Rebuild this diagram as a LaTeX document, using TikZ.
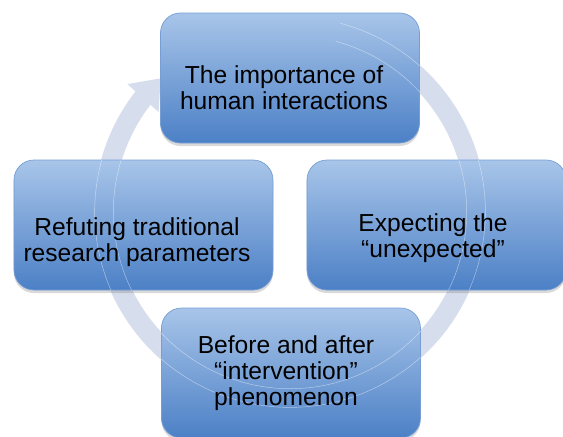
\documentclass[tikz,border=0pt]{standalone}
\usepackage{fontspec}
\setmainfont{Liberation Sans}
\usetikzlibrary{arrows.meta,bending,shadows}

\definecolor{boxtop}{RGB}{168,197,233}
\definecolor{boxbot}{RGB}{76,128,198}
\definecolor{boxrim}{RGB}{118,158,212}
\definecolor{cyclegray}{RGB}{214,221,236}

\begin{document}
\begin{tikzpicture}[
    x=0.03cm, y=-0.03cm,
    stepbox/.style={rounded corners=0.6cm, minimum width=7.77cm, minimum height=3.9cm, top color=boxtop, bottom color=boxbot, draw=boxrim, line width=0.6pt, drop shadow={shadow xshift=0pt, shadow yshift=-0.09cm, opacity=0.3}},
    steptext/.style={align=center, font=\fontsize{21}{22.5}\selectfont, text=black},
    cyclearrow/.style={draw=cyclegray, line width=0.6cm, -{Triangle[width=1.2cm,length=0.8cm]}},
    rim/.style={draw=white, opacity=0.5, line width=0.4pt}
    ]
    
    \clip (0,0) rectangle (563,436);
    
    % Cycle arrow behind the boxes
    \coordinate (hub) at (290,212);
    \draw[cyclearrow] (hub) ++(75:5.58cm) arc[start angle=75, end angle=-226, radius=5.58cm];
    
    % Boxes
    \node[stepbox] (human) at (290,78) {};
    \node[stepbox] (refute) at (143.5,225) {};
    \node[stepbox] (expect) at (436.5,225) {};
    \node[stepbox] (interv) at (291,373) {};
    
    % Rims of the arrow seen through the boxes
    \begin{scope}
        \clip (human.south west) rectangle (human.north east)
              (refute.south west) rectangle (refute.north east)
              (expect.south west) rectangle (expect.north east)
              (interv.south west) rectangle (interv.north east);
        \draw[rim] (hub) ++(75:5.86cm) arc[start angle=75, end angle=-220, radius=5.86cm];
        \draw[rim] (hub) ++(75:5.30cm) arc[start angle=75, end angle=-220, radius=5.30cm];
    \end{scope}
    
    % Texts
    \node[steptext] (humantext) at (284,88) {The importance of\\human interactions};
    \node[steptext] (refutetext) at (137,242) {Refuting traditional\\research parameters};
    \node[steptext] (expecttext) at (433,238) {Expecting the\\“unexpected”};
    \node[steptext] (intervtext) at (286,373) {Before and after\\“intervention”\\phenomenon};
    
\end{tikzpicture}
\end{document}
